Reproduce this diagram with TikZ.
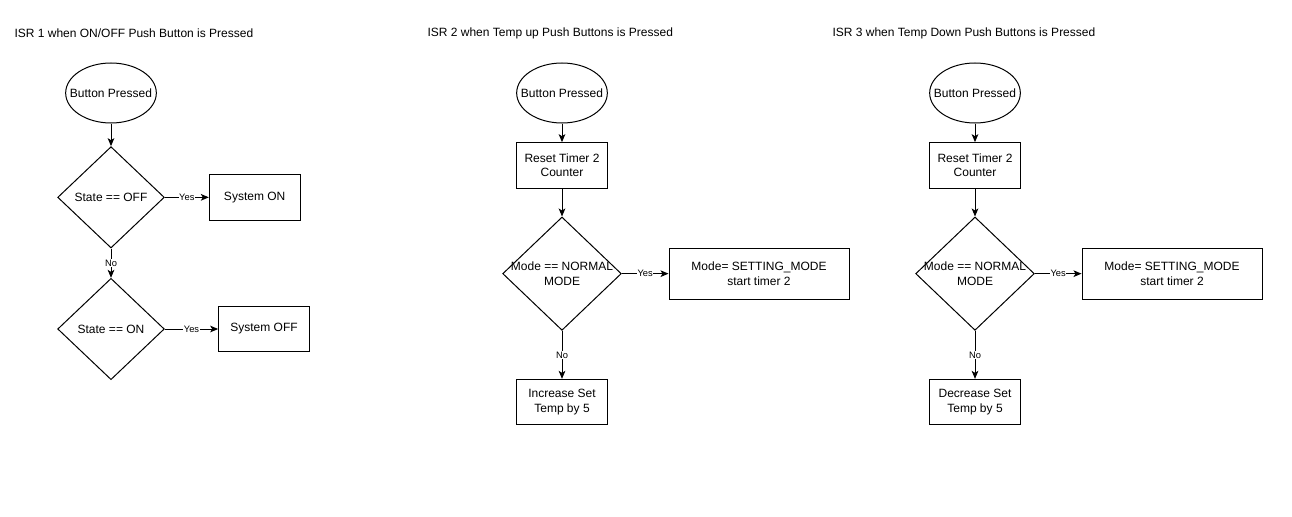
\documentclass[tikz,border=0pt]{standalone}
\usepackage{fontspec}
\setmainfont{Liberation Sans}
\usetikzlibrary{arrows.meta, positioning, shapes.geometric}

\begin{document}
\begin{tikzpicture}[
    >={Stealth[length=6pt, width=5pt, inset=1.5pt]}, % classic arrow tips
    x=0.75pt, y=-0.75pt,      % one unit = one pixel of the sketch
    line width=0.75pt,
    font=\fontsize{9}{11}\selectfont
  ]

  %--- styles for the flow chart boxes ---
  \tikzset{
    titleStyle/.style   ={anchor=west, inner sep=0pt},
    startStyle/.style   ={ellipse, draw=black, fill=white, inner sep=0pt,
    minimum width=68pt, minimum height=45pt},
    decisionStyle/.style={diamond, draw=black, fill=white, inner sep=0pt,
    minimum width=80pt, minimum height=76pt},
    bigDecision/.style  ={decisionStyle, minimum width=89pt,
    minimum height=85pt},
    boxStyle/.style     ={rectangle, draw=black, fill=white, align=center,
    minimum width=68pt, minimum height=34pt},
    wideBox/.style      ={boxStyle, minimum width=135pt, minimum height=38pt},
    edgeLabel/.style    ={fill=white, inner sep=0.5pt,
    font=\fontsize{7}{8}\selectfont},
  }

  \useasboundingbox (0,0) rectangle (1292,517);

  %------------------------------------------------------------------------------
  % 1) ISR 1 (ON/OFF button)
  %------------------------------------------------------------------------------
  \node[titleStyle] (title1) at (14,33) {ISR 1 when ON/OFF Push Button is Pressed};
  \node[startStyle, label={center:{Button Pressed}}] (start1) at (111,93) {};
  \node[decisionStyle, label={center:{State == OFF}}] (decOff) [below=17pt of start1] {};
  \node[boxStyle] (sysOn) [right=33pt of decOff] {System ON};
  \node[decisionStyle, label={center:{State == ON}}] (decOn) [below=22pt of decOff] {};
  \node[boxStyle] (sysOff) [right=40pt of decOn] {System OFF};

  %------------------------------------------------------------------------------
  % 2) ISR 2 (Temp up button)
  %------------------------------------------------------------------------------
  \node[titleStyle] (title2) at (427,33) {ISR 2 when Temp up Push Buttons is Pressed};
  \node[startStyle, label={center:{Button Pressed}}] (start2) at (562,93) {};
  \node[boxStyle] (reset2) [below=14pt of start2] {Reset Timer 2\\Counter};
  \node[bigDecision, label={[align=center]center:{Mode == NORMAL\\MODE}}] (mode2)
  [below=21pt of reset2] {};
  \node[wideBox] (set2) [right=35pt of mode2] {Mode= SETTING\_MODE\\start timer 2};
  \node[boxStyle] (inc) [below=36pt of mode2] {Increase Set\\Temp by 5};

  %------------------------------------------------------------------------------
  % 3) ISR 3 (Temp down button)
  %------------------------------------------------------------------------------
  \node[titleStyle] (title3) at (832,33) {ISR 3 when Temp Down Push Buttons is Pressed};
  \node[startStyle, label={center:{Button Pressed}}] (start3) at (975,93) {};
  \node[boxStyle] (reset3) [below=14pt of start3] {Reset Timer 2\\Counter};
  \node[bigDecision, label={[align=center]center:{Mode == NORMAL\\MODE}}] (mode3)
  [below=21pt of reset3] {};
  \node[wideBox] (set3) [right=35pt of mode3] {Mode= SETTING\_MODE\\start timer 2};
  \node[boxStyle] (dec) [below=36pt of mode3] {Decrease Set\\Temp by 5};

  %------------------------------------------------------------------------------
  % Edges
  %------------------------------------------------------------------------------
  \draw[->] (start1) -- (decOff);
  \draw[->] (decOff) -- node[edgeLabel] {Yes} (sysOn);
  \draw[->] (decOff) -- node[edgeLabel] {No} (decOn);
  \draw[->] (decOn)  -- node[edgeLabel] {Yes} (sysOff);

  \draw[->] (start2) -- (reset2);
  \draw[->] (reset2) -- (mode2);
  \draw[->] (mode2)  -- node[edgeLabel] {Yes} (set2);
  \draw[->] (mode2)  -- node[edgeLabel] {No} (inc);

  \draw[->] (start3) -- (reset3);
  \draw[->] (reset3) -- (mode3);
  \draw[->] (mode3)  -- node[edgeLabel] {Yes} (set3);
  \draw[->] (mode3)  -- node[edgeLabel] {No} (dec);

\end{tikzpicture}
\end{document}
